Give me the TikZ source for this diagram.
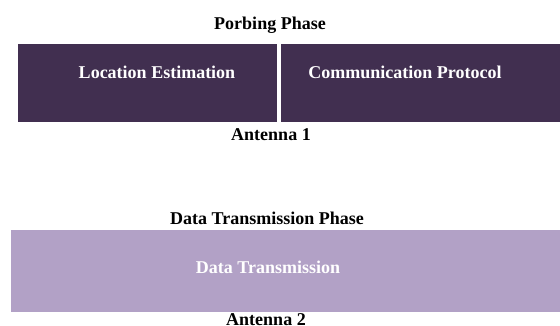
\documentclass[tikz,border=0pt]{standalone}
\usepackage{fontspec}
\setmainfont{Liberation Serif}
\definecolor{probecol}{HTML}{412F50}
\definecolor{datacol}{HTML}{B2A1C6}
\tikzset{
  phasebox/.style={draw=none, inner sep=0pt, anchor=north west},
  caption/.style={font=\bfseries\fontsize{18}{20}\selectfont, text=black, inner sep=0pt},
  boxtext/.style={font=\bfseries\fontsize{18}{20}\selectfont, text=white, inner sep=0pt}
}
\begin{document}
\begin{tikzpicture}[x=1pt,y=-1pt]
\useasboundingbox (0,0) rectangle (560,326);
%% probing phase, antenna 1
\node[caption] (probing) at (270,25) {Porbing Phase};
\node[phasebox, fill=probecol, minimum width=259pt, minimum height=78pt] (loc) at (18,44) {};
\node[phasebox, fill=probecol, minimum width=279pt, minimum height=78pt] (comm) at (281,44) {};
\node[boxtext] (loctext) at (157,72) {Location Estimation};
\node[boxtext] (commtext) at (405,72) {Communication Protocol};
\node[caption] (ant1) at (271,135) {Antenna 1};
%% data transmission phase, antenna 2
\node[caption] (dataphase) at (267,218) {Data Transmission Phase};
\node[phasebox, fill=datacol, minimum width=549pt, minimum height=82pt] (data) at (11,230) {};
\node[boxtext] (datatext) at (268,267) {Data Transmission};
\node[caption] (ant2) at (266,320) {Antenna 2};
\end{tikzpicture}
\end{document}
